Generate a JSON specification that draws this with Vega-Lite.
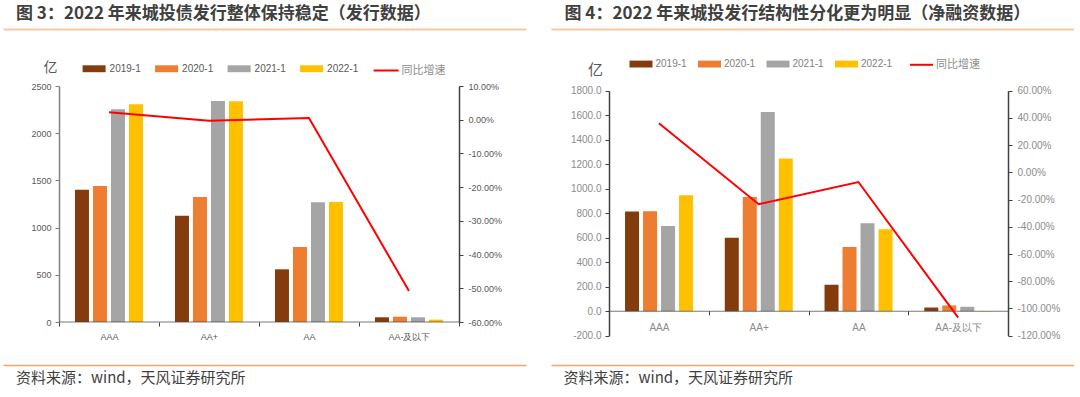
{
  "$schema": "https://vega.github.io/schema/vega-lite/v6.json",
  "background": "white",
  "padding": {"left": 3, "top": 4, "right": 0, "bottom": 0},
  "autosize": {"type": "pad"},
  "config": {"view": {"stroke": null}, "axis": {"grid": false, "labelOverlap": false}, "font": "Liberation Sans"},
  "datasets": {
    "left_bars": [
      {"rating": "AAA", "year": "2019-1", "value": 1400},
      {"rating": "AAA", "year": "2020-1", "value": 1440},
      {"rating": "AAA", "year": "2021-1", "value": 2253},
      {"rating": "AAA", "year": "2022-1", "value": 2306},
      {"rating": "AA+", "year": "2019-1", "value": 1126},
      {"rating": "AA+", "year": "2020-1", "value": 1324},
      {"rating": "AA+", "year": "2021-1", "value": 2341},
      {"rating": "AA+", "year": "2022-1", "value": 2338},
      {"rating": "AA", "year": "2019-1", "value": 558},
      {"rating": "AA", "year": "2020-1", "value": 794},
      {"rating": "AA", "year": "2021-1", "value": 1268},
      {"rating": "AA", "year": "2022-1", "value": 1271},
      {"rating": "AA-及以下", "year": "2019-1", "value": 50},
      {"rating": "AA-及以下", "year": "2020-1", "value": 56},
      {"rating": "AA-及以下", "year": "2021-1", "value": 50},
      {"rating": "AA-及以下", "year": "2022-1", "value": 25}
    ],
    "left_growth": [
      {"rating": "AAA", "series": "同比增速", "growth": 0.022},
      {"rating": "AA+", "series": "同比增速", "growth": -0.003},
      {"rating": "AA", "series": "同比增速", "growth": 0.005},
      {"rating": "AA-及以下", "series": "同比增速", "growth": -0.508}
    ],
    "right_bars": [
      {"rating": "AAA", "year": "2019-1", "value": 813},
      {"rating": "AAA", "year": "2020-1", "value": 816},
      {"rating": "AAA", "year": "2021-1", "value": 696},
      {"rating": "AAA", "year": "2022-1", "value": 947},
      {"rating": "AA+", "year": "2019-1", "value": 600},
      {"rating": "AA+", "year": "2020-1", "value": 933},
      {"rating": "AA+", "year": "2021-1", "value": 1626},
      {"rating": "AA+", "year": "2022-1", "value": 1247},
      {"rating": "AA", "year": "2019-1", "value": 216},
      {"rating": "AA", "year": "2020-1", "value": 524},
      {"rating": "AA", "year": "2021-1", "value": 718},
      {"rating": "AA", "year": "2022-1", "value": 668},
      {"rating": "AA-及以下", "year": "2019-1", "value": 30},
      {"rating": "AA-及以下", "year": "2020-1", "value": 47},
      {"rating": "AA-及以下", "year": "2021-1", "value": 36},
      {"rating": "AA-及以下", "year": "2022-1", "value": -2}
    ],
    "right_growth": [
      {"rating": "AAA", "series": "同比增速", "growth": 0.361},
      {"rating": "AA+", "series": "同比增速", "growth": -0.234},
      {"rating": "AA", "series": "同比增速", "growth": -0.071},
      {"rating": "AA-及以下", "series": "同比增速", "growth": -1.067}
    ]
  },
  "spacing": 25,
  "resolve": {
    "scale": {"color": "independent", "stroke": "independent"},
    "legend": {"color": "independent", "stroke": "independent"}
  },
  "hconcat": [
    {
      "width": 523,
      "height": 236,
      "layer": [
        {
          "data": {"name": "left_bars"},
          "layer": [
            {
              "mark": {"type": "bar"},
              "encoding": {
                "x": {
                  "field": "rating", "type": "nominal",
                  "sort": ["AAA", "AA+", "AA", "AA-及以下"],
                  "scale": {"paddingInner": 0, "paddingOuter": 0.615, "align": 0.455},
                  "axis": {
                    "orient": "bottom", "title": null, "domain": false,
                    "tickBand": "extent", "ticks": true, "tickSize": 4, "tickColor": "#404040",
                    "labelAngle": 0, "labelFontSize": 9, "labelColor": "#595959", "labelPadding": 6
                  }
                },
                "xOffset": {
                  "field": "year", "type": "nominal",
                  "scale": {"paddingInner": 0.222, "paddingOuter": 0.889}
                },
                "y": {
                  "field": "value", "type": "quantitative",
                  "scale": {"domain": [0, 2500], "nice": false},
                  "axis": {
                    "orient": "left", "offset": -56, "labelOverlap": false, "tickCount": 30,
                    "values": [0, 500, 1000, 1500, 2000, 2500], "format": "d",
                    "domainColor": "#808080", "domainWidth": 1.5,
                    "tickColor": "#808080", "tickSize": 4,
                    "labelFontSize": 9, "labelColor": "#595959", "labelPadding": 4,
                    "title": "亿", "titleAngle": 0, "titleX": -9, "titleY": -19,
                    "titleAlign": "center", "titleBaseline": "middle",
                    "titleFont": "Noto Sans CJK SC", "titleFontSize": 14,
                    "titleFontWeight": "normal", "titleColor": "#595959"
                  }
                },
                "color": {
                  "field": "year", "type": "nominal",
                  "scale": {
                    "domain": ["2019-1", "2020-1", "2021-1", "2022-1"],
                    "range": ["#843c0c", "#ed7d31", "#a5a5a5", "#ffc000"]
                  },
                  "legend": {
                    "orient": "none", "legendX": 79.6, "legendY": -29,
                    "direction": "horizontal", "columns": 4, "title": null, "padding": 0,
                    "symbolType": "M-1,-0.3H1V0.3H-1Z", "symbolSize": 529, "symbolStrokeWidth": 0,
                    "labelFont": "Liberation Sans", "labelFontSize": 10,
                    "labelColor": "#595959", "labelOffset": 4, "columnPadding": 13.5
                  }
                }
              }
            },
            {
              "data": {"name": "left_growth"},
              "mark": {"type": "tick", "size": 100, "thickness": 1, "color": "#404040"},
              "encoding": {
                "x": {
                  "field": "rating", "type": "nominal",
                  "sort": ["AAA", "AA+", "AA", "AA-及以下"],
                  "axis": {
                    "orient": "bottom", "offset": 43,
                    "domainColor": "#f2a46a", "domainWidth": 1.5,
                    "ticks": false, "labels": false,
                    "title": "资料来源：wind，天风证券研究所",
                    "titleX": 12.5, "titleY": 12, "titleAlign": "left", "titleAnchor": "start",
                    "titleBaseline": "middle", "titleFont": "Noto Sans CJK SC", "titleFontSize": 15,
                    "titleFontWeight": "normal", "titleColor": "#404040"
                  }
                },
                "y": {"datum": 0, "type": "quantitative", "axis": {"tickCount": 30}}
              }
            }
          ],
          "resolve": {"axis": {"x": "independent"}}
        },
        {
          "data": {"name": "left_growth"},
          "mark": {"type": "line", "strokeWidth": 2},
          "encoding": {
            "x": {
              "field": "rating", "type": "nominal",
              "sort": ["AAA", "AA+", "AA", "AA-及以下"],
              "axis": {
                "orient": "top", "offset": 57,
                "domainColor": "#f8c8a0", "domainWidth": 2,
                "ticks": false, "labels": false,
                "title": "图 3：2022 年来城投债发行整体保持稳定（发行数据）",
                "titleX": 12.5, "titleY": -16, "titleAlign": "left", "titleAnchor": "start",
                "titleBaseline": "middle", "titleFont": "Noto Sans CJK SC", "titleFontSize": 17,
                "titleFontWeight": "bold", "titleColor": "#404040", "titleAngle": 0
              }
            },
            "y": {
              "field": "growth", "type": "quantitative",
              "scale": {"domain": [-0.6, 0.1], "nice": false, "zero": false},
              "axis": {
                "orient": "right", "offset": -67, "labelOverlap": false, "tickCount": 30,
                "values": [-0.6, -0.5, -0.4, -0.3, -0.2, -0.1, 0, 0.1], "format": ".2%",
                "labelExpr": "replace(datum.label, '−', '-')",
                "domainColor": "#404040", "domainWidth": 1.5,
                "tickColor": "#404040", "tickSize": 4,
                "labelFontSize": 9, "labelColor": "#595959", "labelPadding": 5,
                "title": null
              }
            },
            "stroke": {
              "field": "series", "type": "nominal",
              "scale": {"range": ["#ff0000"]},
              "legend": {
                "orient": "none", "legendX": 369.6, "legendY": -29, "title": null, "padding": 0,
                "symbolType": "stroke", "symbolSize": 625, "symbolStrokeWidth": 2,
                "labelFont": "Noto Sans CJK SC", "labelFontSize": 11,
                "labelColor": "#8c8c8c", "labelOffset": 2
              }
            }
          }
        }
      ],
      "resolve": {"scale": {"y": "independent"}, "axis": {"x": "independent"}}
    },
    {
      "width": 523,
      "height": 249.7,
      "layer": [
        {
          "data": {"name": "right_bars"},
          "layer": [
            {
              "mark": {"type": "bar"},
              "encoding": {
                "x": {
                  "field": "rating", "type": "nominal",
                  "sort": ["AAA", "AA+", "AA", "AA-及以下"],
                  "scale": {"paddingInner": 0, "paddingOuter": 0.6216, "align": 0.468},
                  "axis": {
                    "orient": "bottom", "offset": -25, "title": null, "domain": false,
                    "tickBand": "extent", "ticks": true, "tickSize": 4, "tickColor": "#404040",
                    "labelAngle": 0, "labelFontSize": 10, "labelColor": "#8c8c8c", "labelPadding": 8
                  }
                },
                "xOffset": {
                  "field": "year", "type": "nominal",
                  "scale": {"paddingInner": 0, "paddingOuter": 1.117}
                },
                "y": {
                  "field": "value", "type": "quantitative",
                  "scale": {"domain": [-200, 1800], "nice": false, "range": [249.7, 4.7]},
                  "axis": {
                    "orient": "left", "offset": -58, "labelOverlap": false, "tickCount": 30,
                    "values": [-200, 0, 200, 400, 600, 800, 1000, 1200, 1400, 1600, 1800], "format": ".1f",
                    "labelExpr": "replace(datum.label, '−', '-')",
                    "domainColor": "#404040", "domainWidth": 1.5,
                    "tickColor": "#404040", "tickSize": 4,
                    "labelFontSize": 10, "labelColor": "#8c8c8c", "labelPadding": 4,
                    "title": "亿", "titleAngle": 0, "titleX": -14, "titleY": -17,
                    "titleAlign": "center", "titleBaseline": "middle",
                    "titleFont": "Noto Sans CJK SC", "titleFontSize": 15,
                    "titleFontWeight": "normal", "titleColor": "#595959"
                  }
                },
                "color": {
                  "field": "year", "type": "nominal",
                  "scale": {
                    "domain": ["2019-1", "2020-1", "2021-1", "2022-1"],
                    "range": ["#843c0c", "#ed7d31", "#a5a5a5", "#ffc000"]
                  },
                  "legend": {
                    "orient": "none", "legendX": 78.5, "legendY": -33.7,
                    "direction": "horizontal", "columns": 4, "title": null, "padding": 0,
                    "symbolType": "M-1,-0.3H1V0.3H-1Z", "symbolSize": 529, "symbolStrokeWidth": 0,
                    "labelFont": "Liberation Sans", "labelFontSize": 10,
                    "labelColor": "#7f7f7f", "labelOffset": 3, "columnPadding": 10.5
                  }
                }
              }
            },
            {
              "data": {"name": "right_growth"},
              "mark": {"type": "tick", "size": 99.75, "thickness": 1, "color": "#404040"},
              "encoding": {
                "x": {
                  "field": "rating", "type": "nominal",
                  "sort": ["AAA", "AA+", "AA", "AA-及以下"],
                  "axis": {
                    "orient": "bottom", "offset": 29.3,
                    "domainColor": "#f2a46a", "domainWidth": 1.5,
                    "ticks": false, "labels": false,
                    "title": "资料来源：wind，天风证券研究所",
                    "titleX": 12, "titleY": 12, "titleAlign": "left", "titleAnchor": "start",
                    "titleBaseline": "middle", "titleFont": "Noto Sans CJK SC", "titleFontSize": 15,
                    "titleFontWeight": "normal", "titleColor": "#404040"
                  }
                },
                "y": {"datum": 0, "type": "quantitative", "axis": {"tickCount": 30}}
              }
            }
          ],
          "resolve": {"axis": {"x": "independent"}}
        },
        {
          "data": {"name": "right_growth"},
          "mark": {"type": "line", "strokeWidth": 2},
          "encoding": {
            "x": {
              "field": "rating", "type": "nominal",
              "sort": ["AAA", "AA+", "AA", "AA-及以下"],
              "axis": {
                "orient": "top", "offset": 57,
                "domainColor": "#f8c8a0", "domainWidth": 2,
                "ticks": false, "labels": false,
                "title": "图 4：2022 年来城投发行结构性分化更为明显（净融资数据）",
                "titleX": 13, "titleY": -16, "titleAlign": "left", "titleAnchor": "start",
                "titleBaseline": "middle", "titleFont": "Noto Sans CJK SC", "titleFontSize": 17,
                "titleFontWeight": "bold", "titleColor": "#404040", "titleAngle": 0
              }
            },
            "y": {
              "field": "growth", "type": "quantitative",
              "scale": {"domain": [-1.2, 0.6], "nice": false, "zero": false, "range": [249.7, 4.7]},
              "axis": {
                "orient": "right", "offset": -66, "labelOverlap": false, "tickCount": 30,
                "values": [-1.2, -1.0, -0.8, -0.6, -0.4, -0.2, 0, 0.2, 0.4, 0.6], "format": ".2%",
                "labelExpr": "replace(datum.label, '−', '-')",
                "domainColor": "#404040", "domainWidth": 1.5,
                "tickColor": "#404040", "tickSize": 4,
                "labelFontSize": 10, "labelColor": "#8c8c8c", "labelPadding": 5,
                "title": null
              }
            },
            "stroke": {
              "field": "series", "type": "nominal",
              "scale": {"range": ["#ff0000"]},
              "legend": {
                "orient": "none", "legendX": 358, "legendY": -33.7, "title": null, "padding": 0,
                "symbolType": "stroke", "symbolSize": 529, "symbolStrokeWidth": 2,
                "labelFont": "Noto Sans CJK SC", "labelFontSize": 11,
                "labelColor": "#8c8c8c", "labelOffset": 2
              }
            }
          }
        }
      ],
      "resolve": {"scale": {"y": "independent"}, "axis": {"x": "independent"}}
    }
  ]
}
